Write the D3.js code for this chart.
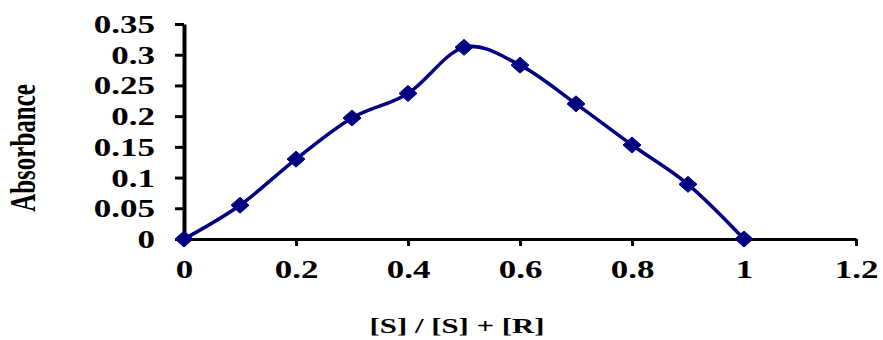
<!DOCTYPE html>
<html>
<head>
<meta charset="utf-8">
<script src="https://cdn.jsdelivr.net/npm/d3@7"></script>
<style>
  html, body { margin: 0; padding: 0; background: #fff; }
  svg { display: block; }
  text { font-family: "Liberation Serif", "Times New Roman", serif; font-weight: bold; fill: #000; }
</style>
</head>
<body>
<svg id="chart" width="883" height="340"></svg>
<script>
// ---- data ----
const xValues = [0, 0.1, 0.2, 0.3, 0.4, 0.5, 0.6, 0.7, 0.8, 0.9, 1.0];
const absorbance = [0, 0.055, 0.130, 0.197, 0.237, 0.312, 0.283, 0.220, 0.153, 0.089, 0];
const xTicks = [0, 0.2, 0.4, 0.6, 0.8, 1, 1.2];
const yTicks = [0, 0.05, 0.1, 0.15, 0.2, 0.25, 0.3, 0.35];
const xTitle = "[S] / [S] + [R]";
const yTitle = "Absorbance";

// ---- layout ----
const stretch = 1.4;            // text in reference is horizontally stretched
const svg = d3.select("#chart");
const x = d3.scaleLinear().domain([0, 1.2]).range([184, 856]);
const y = d3.scaleLinear().domain([0, 0.35]).range([239, 24]);
const navy = "#000080";

// y axis
const gy = svg.append("g").attr("transform", `translate(${x(0)},0)`)
  .call(d3.axisLeft(y).tickValues(yTicks).tickSize(9).tickSizeOuter(0).tickFormat(d => String(d)));
gy.select(".domain").attr("stroke", "#000").attr("stroke-width", 4);
gy.selectAll(".tick line").attr("stroke", "#000").attr("stroke-width", 3);
gy.selectAll(".tick text")
  .attr("x", -29 / stretch).attr("dy", "0.34em")
  .attr("transform", `scale(${stretch},1)`)
  .style("font-size", "25px").style("font-family", "Liberation Serif").style("font-weight", "bold")
  .attr("text-anchor", "end");

// x axis
const gx = svg.append("g").attr("transform", `translate(0,${y(0)})`)
  .call(d3.axisBottom(x).tickValues(xTicks).tickSize(7).tickSizeOuter(0).tickFormat(d => String(d)));
gx.select(".domain").attr("stroke", "#000").attr("stroke-width", 3);
gx.selectAll(".tick line").attr("stroke", "#000").attr("stroke-width", 3);
gx.selectAll(".tick text")
  .attr("y", 39).attr("dy", 0).attr("x", 0)
  .attr("transform", `scale(${stretch},1)`)
  .style("font-size", "25px").style("font-family", "Liberation Serif").style("font-weight", "bold")
  .attr("text-anchor", "middle");

// line
const pts = xValues.map((v, i) => [v, absorbance[i]]);
const line = d3.line().x(d => x(d[0])).y(d => y(d[1])).curve(d3.curveCatmullRom.alpha(0));
svg.append("path").datum(pts)
  .attr("d", line)
  .attr("fill", "none").attr("stroke", navy).attr("stroke-width", 3.5);

// diamond markers
const hw = 9, hh = 8;
svg.append("g").selectAll("path").data(pts).join("path")
  .attr("d", d => {
    const cx = x(d[0]), cy = y(d[1]);
    return `M${cx},${cy - hh}L${cx + hw},${cy}L${cx},${cy + hh}L${cx - hw},${cy}Z`;
  })
  .attr("fill", navy).attr("stroke", navy).attr("stroke-width", 1);

// axis titles
svg.append("text")
  .attr("transform", `translate(457,333) scale(${stretch},1)`)
  .attr("text-anchor", "middle")
  .style("font-size", "22px")
  .text(xTitle);

svg.append("text")
  .attr("transform", `translate(35,148) rotate(-90) scale(1,${stretch})`)
  .attr("text-anchor", "middle")
  .style("font-size", "25px")
  .text(yTitle);
</script>
</body>
</html>
